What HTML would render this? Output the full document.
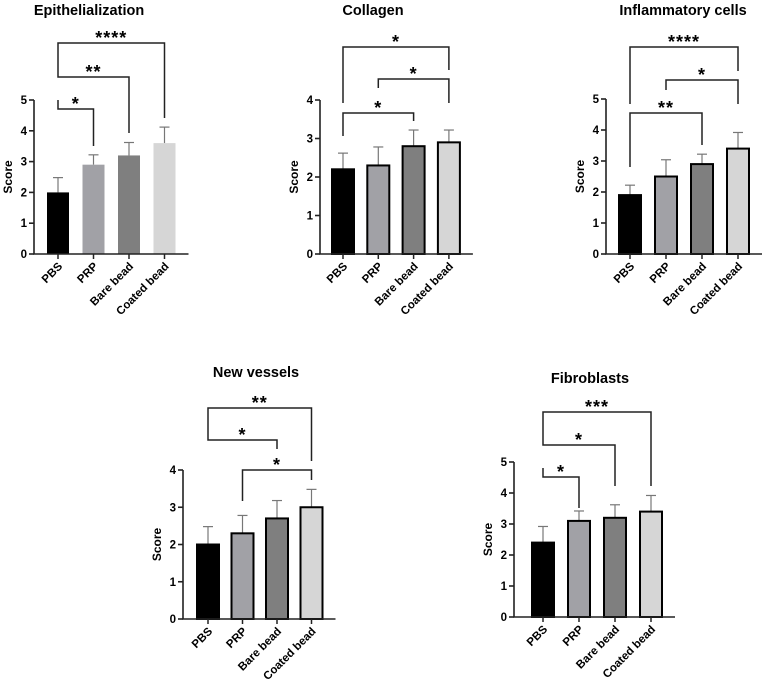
<!DOCTYPE html>
<html><head><meta charset="utf-8"><style>
html,body{margin:0;padding:0;background:#fff;}
svg{display:block;font-family:"Liberation Sans",Arial,sans-serif;}
</style></head><body>
<svg id="s" width="764" height="684" viewBox="0 0 764 684"></svg>
<script>
const categories = ["PBS","PRP","Bare bead","Coated bead"];
const epiValues = [2.0,2.9,3.2,3.6];
const epiErrors = [0.48,0.32,0.42,0.52];
const colValues = [2.2,2.3,2.8,2.9];
const colErrors = [0.42,0.48,0.42,0.32];
const infValues = [1.9,2.5,2.9,3.4];
const infErrors = [0.32,0.54,0.32,0.52];
const vesValues = [2.0,2.3,2.7,3.0];
const vesErrors = [0.48,0.48,0.48,0.48];
const fibValues = [2.4,3.1,3.2,3.4];
const fibErrors = [0.52,0.32,0.42,0.52];
const yTicks5 = [0,1,2,3,4,5];
const yTicks4 = [0,1,2,3,4];
const epiSig = [[0,1,"*"],[0,2,"**"],[0,3,"****"]];
const colSig = [[0,2,"*"],[1,3,"*"],[0,3,"*"]];
const infSig = [[0,2,"**"],[1,3,"*"],[0,3,"****"]];
const vesSig = [[0,2,"*"],[1,3,"*"],[0,3,"**"]];
const fibSig = [[0,1,"*"],[0,2,"*"],[0,3,"***"]];
const colors = ["#000000","#a1a1a6","#7f7f7f","#d6d6d6"];

const NS="http://www.w3.org/2000/svg";
const svg=document.getElementById('s');
function mk(tag,attrs,parent,txt){const e=document.createElementNS(NS,tag);for(const k in attrs)e.setAttribute(k,attrs[k]);if(txt!==undefined)e.textContent=txt;(parent||svg).appendChild(e);return e;}

function panel(o){
  const g=mk('g',{},svg);
  
  
  const max=o.ticks[o.ticks.length-1];
  const y=v=>o.y0-(o.y0-o.yTop)*v/max;
  const x=i=>o.x0+o.first+i*o.step;
  const t=mk('text',{x:o.tx,y:o.ty,'text-anchor':'middle','font-size':'14.5','font-weight':'bold'},g,o.title);
  
  
  const yl=mk('text',{transform:`translate(${o.x0-22},${(o.y0+o.yTop)/2}) rotate(-90)`,'text-anchor':'middle','font-size':'12','font-weight':'bold'},g,'Score');
  
  
  o.values.forEach((v,i)=>{
    const top=y(v+o.errors[i]);
    const el=mk('line',{x1:x(i),x2:x(i),y1:y(v),y2:top,stroke:'#777','stroke-width':1.2},g);
    
    
    mk('line',{x1:x(i)-5,x2:x(i)+5,y1:top,y2:top,stroke:'#777','stroke-width':1.2},g);
    const bw=22;
    const r=mk('rect',{x:x(i)-bw/2,y:y(v),width:bw,height:o.y0-y(v),fill:colors[i],stroke:o.border?'#000':'none','stroke-width':o.border?2:0},g);
    
    
    mk('line',{x1:x(i),x2:x(i),y1:o.y0,y2:o.y0+5,stroke:'#222','stroke-width':1.5},g);
    const cl=mk('text',{transform:`translate(${x(i)+5},${o.y0+13}) rotate(-45)`,'text-anchor':'end','font-size':'11.5','font-weight':'bold'},g,categories[i]);
    
    
  });
  const ax=mk('path',{d:`M${o.x0} ${o.yTop} V${o.y0} H${x(3)+24}`,fill:'none',stroke:'#222','stroke-width':1.6},g);
  
  
  o.ticks.forEach(tv=>{
    mk('line',{x1:o.x0-5,x2:o.x0,y1:y(tv),y2:y(tv),stroke:'#222','stroke-width':1.6},g);
    const tl=mk('text',{x:o.x0-7,y:y(tv)+4,'text-anchor':'end','font-size':'11.5','font-weight':'bold'},g,String(tv));
    
    
  });
  o.sig.forEach((s,k)=>{
    const by=o.brY[k], l1=o.brL[k][0], l2=o.brL[k][1];
    const p=mk('path',{d:`M${x(s[0])} ${l1} V${by} H${x(s[1])} V${l2}`,fill:'none',stroke:'#222','stroke-width':1.5},g);
    
    
    const st=mk('text',{x:(x(s[0])+x(s[1]))/2,y:by+1,'text-anchor':'middle','font-size':'18','font-weight':'bold','letter-spacing':'1'},g,s[2]);
    
    
  });
}
panel({name:'epithelialization',title:'Epithelialization',tx:89,ty:15,x0:34,y0:254,yTop:100,first:24,step:35.5,ticks:yTicks5,values:epiValues,errors:epiErrors,sig:epiSig,border:false,brY:[109,77,43],brL:[[100,146],[67,133],[67,118]]});
panel({name:'collagen',title:'Collagen',tx:373,ty:15,x0:320,y0:254,yTop:100,first:23,step:35.3,ticks:yTicks4,values:colValues,errors:colErrors,sig:colSig,border:true,brY:[113,79,47],brL:[[136,121],[88,103],[103,70]]});
panel({name:'inflammatory-cells',title:'Inflammatory cells',tx:683,ty:15,x0:606,y0:254,yTop:99,first:24,step:36,ticks:yTicks5,values:infValues,errors:infErrors,sig:infSig,border:true,brY:[113,80,47],brL:[[167,145],[90,104],[104,71]]});
panel({name:'new-vessels',title:'New vessels',tx:256,ty:377,x0:183,y0:619,yTop:470,first:25,step:34.5,ticks:yTicks4,values:vesValues,errors:vesErrors,sig:vesSig,border:true,brY:[440,470,408],brL:[[431,449],[501,480],[431,461]]});
panel({name:'fibroblasts',title:'Fibroblasts',tx:590,ty:383,x0:514,y0:617,yTop:462,first:29,step:36,ticks:yTicks5,values:fibValues,errors:fibErrors,sig:fibSig,border:true,brY:[477,445,412],brL:[[468,508],[435,486],[435,486]]});
</script>
</body></html>
